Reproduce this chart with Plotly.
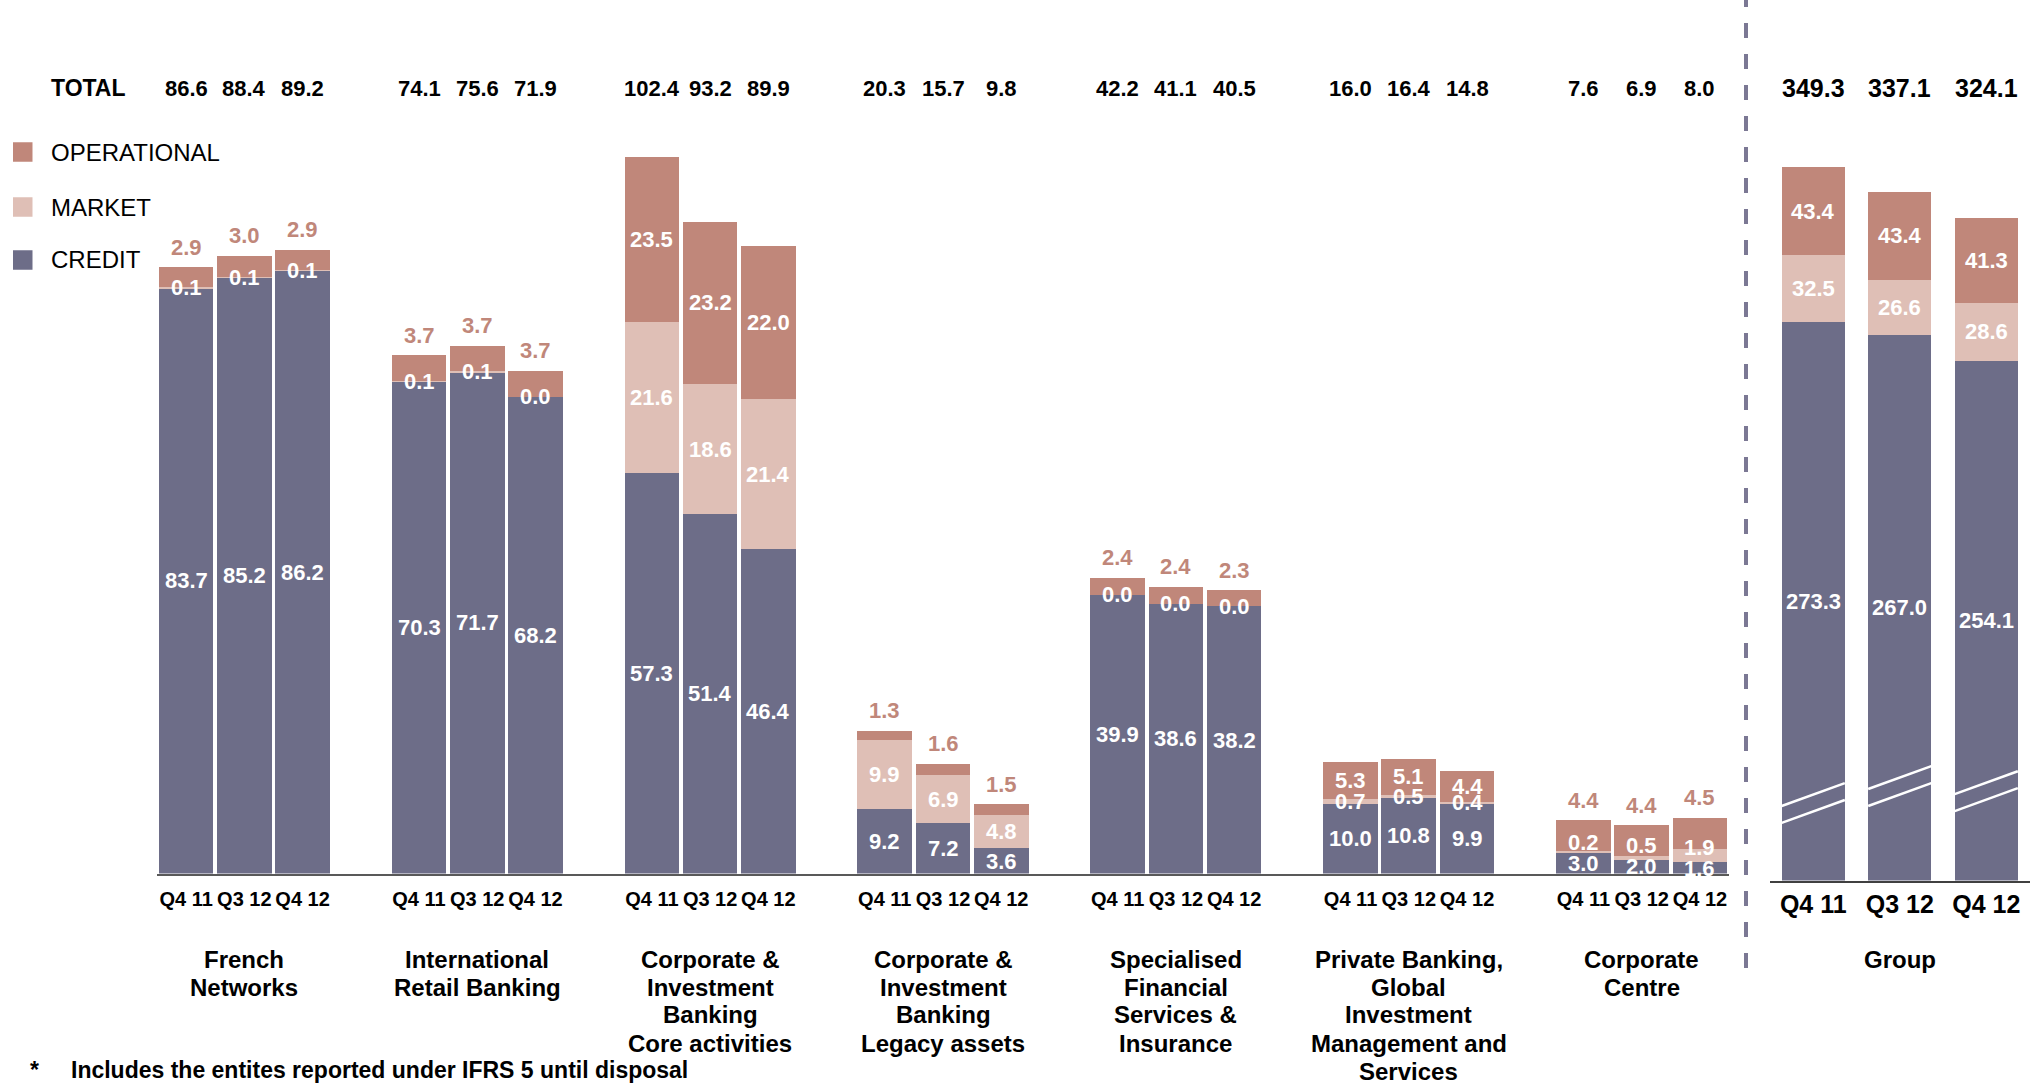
import plotly.graph_objects as go

# ---------------- data ----------------
periods = ["Q4 11", "Q3 12", "Q4 12"]
segment_titles = [
    ["French", "Networks"],
    ["International", "Retail Banking"],
    ["Corporate &", "Investment", "Banking", "Core activities"],
    ["Corporate &", "Investment", "Banking", "Legacy assets"],
    ["Specialised", "Financial", "Services &", "Insurance"],
    ["Private Banking,", "Global", "Investment", "Management and", "Services"],
    ["Corporate", "Centre"],
]
credit = [
    [83.7, 85.2, 86.2],
    [70.3, 71.7, 68.2],
    [57.3, 51.4, 46.4],
    [9.2, 7.2, 3.6],
    [39.9, 38.6, 38.2],
    [10.0, 10.8, 9.9],
    [3.0, 2.0, 1.6],
]
market = [
    [0.1, 0.1, 0.1],
    [0.1, 0.1, 0.0],
    [21.6, 18.6, 21.4],
    [9.9, 6.9, 4.8],
    [0.0, 0.0, 0.0],
    [0.7, 0.5, 0.4],
    [0.2, 0.5, 1.9],
]
operational = [
    [2.9, 3.0, 2.9],
    [3.7, 3.7, 3.7],
    [23.5, 23.2, 22.0],
    [1.3, 1.6, 1.5],
    [2.4, 2.4, 2.3],
    [5.3, 5.1, 4.4],
    [4.4, 4.4, 4.5],
]
totals = [
    [86.6, 88.4, 89.2],
    [74.1, 75.6, 71.9],
    [102.4, 93.2, 89.9],
    [20.3, 15.7, 9.8],
    [42.2, 41.1, 40.5],
    [16.0, 16.4, 14.8],
    [7.6, 6.9, 8.0],
]
group_title = "Group"
group_credit = [273.3, 267.0, 254.1]
group_market = [32.5, 26.6, 28.6]
group_operational = [43.4, 43.4, 41.3]
group_totals = [349.3, 337.1, 324.1]
footnote = "Includes the entites reported under IFRS 5 until disposal"

# ---------------- style ----------------
W, H = 2038, 1085
C_CREDIT = "#6d6d88"
C_MARKET = "#dfbfb6"
C_OPER = "#c0877a"
FONT = "Liberation Sans, Arial, sans-serif"

def py(px):  # pixel row -> paper y
    return 1 - px / H

def pxx(px):
    return px / W

xs, c_flat, m_flat, o_flat, t_flat = [], [], [], [], []
for gi in range(len(credit)):
    for pi in range(len(periods)):
        xs.append(gi * 4 + pi)
        c_flat.append(credit[gi][pi])
        m_flat.append(market[gi][pi])
        o_flat.append(operational[gi][pi])
        t_flat.append(totals[gi][pi])
gx = list(range(len(periods)))

fig = go.Figure()
for name, vals, col in [("CREDIT", c_flat, C_CREDIT), ("MARKET", m_flat, C_MARKET),
                        ("OPERATIONAL", o_flat, C_OPER)]:
    fig.add_trace(go.Bar(x=xs, y=vals, name=name, marker=dict(color=col, line=dict(width=0)),
                         width=0.94, xaxis="x", yaxis="y", showlegend=False, hoverinfo="skip"))
for name, vals, col in [("CREDIT", group_credit, C_CREDIT), ("MARKET", group_market, C_MARKET),
                        ("OPERATIONAL", group_operational, C_OPER)]:
    fig.add_trace(go.Bar(x=gx, y=vals, name=name, marker=dict(color=col, line=dict(width=0)),
                         width=0.73, xaxis="x2", yaxis="y2", showlegend=False, hoverinfo="skip"))

ann = []
LBL = 22
PUSH = 3.0  # min separation (data units) between credit and market labels

def add(**kw):
    kw.setdefault("xanchor", "center")
    kw.setdefault("yanchor", "middle")
    ann.append(dict(showarrow=False, **kw))

for x, c, m, o, t in zip(xs, c_flat, m_flat, o_flat, t_flat):
    f_white = dict(family=FONT, size=LBL, color="white")
    add(x=x, y=c / 2, xref="x", yref="y", text=f"<b>{c:.1f}</b>", font=f_white)
    my = c + m / 2
    pushed = my < c / 2 + PUSH
    if pushed:
        my = c / 2 + PUSH
    add(x=x, y=my, xref="x", yref="y", text=f"<b>{m:.1f}</b>", font=f_white)
    if o >= 4 and not pushed:
        add(x=x, y=c + m + o / 2, xref="x", yref="y", text=f"<b>{o:.1f}</b>", font=f_white)
    else:
        add(x=x, y=c + m + o, xref="x", yref="y", yshift=20,
            text=f"<b>{o:.1f}</b>", font=dict(family=FONT, size=LBL, color=C_OPER))
    add(x=x, y=py(88), xref="x", yref="paper", text=f"<b>{t:.1f}</b>",
        font=dict(family=FONT, size=22, color="black"))

for x, c, m, o, t in zip(gx, group_credit, group_market, group_operational, group_totals):
    f_white = dict(family=FONT, size=22, color="white")
    add(x=x, y=c / 2, xref="x2", yref="y2", text=f"<b>{c:.1f}</b>", font=f_white)
    add(x=x, y=c + m / 2, xref="x2", yref="y2", text=f"<b>{m:.1f}</b>", font=f_white)
    add(x=x, y=c + m + o / 2, xref="x2", yref="y2", text=f"<b>{o:.1f}</b>", font=f_white)
    add(x=x, y=py(88), xref="x2", yref="paper", text=f"<b>{t:.1f}</b>",
        font=dict(family=FONT, size=25, color="black"))

add(x=pxx(49), y=py(88), xref="paper", yref="paper", xanchor="left", text="<b>TOTAL</b>",
    font=dict(family=FONT, size=23, color="black"))

# segment titles (one annotation per line)
LINE_STEP = 28.0
for gi, lines in enumerate(segment_titles):
    for k, line in enumerate(lines):
        add(x=gi * 4 + 1, y=py(959 + k * LINE_STEP), xref="x", yref="paper", text=f"<b>{line}</b>",
            font=dict(family=FONT, size=24, color="black"))
add(x=1, y=py(959), xref="x2", yref="paper", text=f"<b>{group_title}</b>",
    font=dict(family=FONT, size=24, color="black"))

# footnote
add(x=pxx(34), y=py(1070), xref="paper", yref="paper", text="<b>*</b>",
    font=dict(family=FONT, size=23, color="black"))
add(x=pxx(69), y=py(1070), xref="paper", yref="paper", xanchor="left",
    text=f"<b>{footnote}</b>", font=dict(family=FONT, size=23, color="black"))

shapes = []
# custom legend
for name, col, cy in [("OPERATIONAL", C_OPER, 152), ("MARKET", C_MARKET, 207), ("CREDIT", C_CREDIT, 260)]:
    shapes.append(dict(type="rect", xref="paper", yref="paper", x0=pxx(13), x1=pxx(32.5),
                       y0=py(cy + 9.75), y1=py(cy - 9.75), fillcolor=col, line=dict(width=0)))
    add(x=pxx(49), y=py(cy), xref="paper", yref="paper", xanchor="left", text=name,
        font=dict(family=FONT, size=24, color="black"))

# dashed separator
shapes.append(dict(type="line", xref="paper", yref="paper", x0=pxx(1746), x1=pxx(1746),
                   y0=py(968), y1=1, line=dict(color="#7b7894", width=4, dash="15px,16px")))

# axis-break marks on group credit bars
BREAK_BASE = [36.5, 44.8, 42.3]
for i, b in enumerate(BREAK_BASE):
    for off in (0, -8.3):
        shapes.append(dict(type="line", xref="x2", yref="y2", x0=i - 0.365, x1=i + 0.365,
                           y0=b + off, y1=b + off + 11.2, line=dict(color="white", width=2.5)))

fig.update_layout(
    width=W, height=H, autosize=False, barmode="stack",
    margin=dict(l=0, r=0, t=0, b=0, pad=0),
    paper_bgcolor="white", plot_bgcolor="rgba(0,0,0,0)",
    annotations=ann, shapes=shapes,
    xaxis=dict(domain=[pxx(157), pxx(1729)], range=[-0.5, 26.5], anchor="y",
               tickvals=xs, ticktext=[periods[i % 3] for i in range(len(xs))], tickangle=0,
               tickfont=dict(family=FONT, size=20, color="black", weight="bold"),
               showline=True, linecolor="#595959", linewidth=2, showgrid=False,
               zeroline=False, ticks="", ticklabelstandoff=6),
    yaxis=dict(domain=[py(873.6), 1], range=[0, 124.9], visible=False),
    xaxis2=dict(domain=[pxx(1770), pxx(2029.5)], range=[-0.5, 2.5], anchor="y2",
                tickvals=gx, ticktext=periods, tickangle=0,
                tickfont=dict(family=FONT, size=25, color="black", weight="bold"),
                showline=True, linecolor="#404040", linewidth=2, showgrid=False,
                zeroline=False, ticks="", ticklabelstandoff=0),
    yaxis2=dict(domain=[py(880.6), 1], range=[0, 430.7], visible=False),
)

fig.write_html(
    "out.html",
    config={"responsive": False},
    post_script="document.body.style.margin='0';document.body.style.overflow='hidden';",
)
